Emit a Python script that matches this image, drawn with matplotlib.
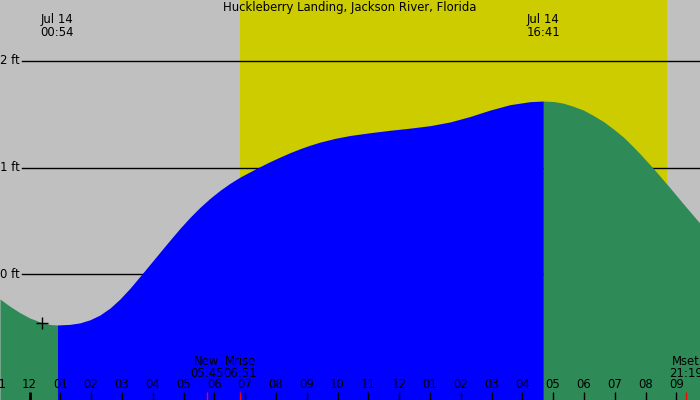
import matplotlib
matplotlib.use("Agg")
import matplotlib.pyplot as plt
import matplotlib.transforms as mtransforms

# ---- data ----
title = "Huckleberry Landing, Jackson River, Florida"
# tide curve: hours since midnight Jul 14, height in ft
tide_hours = [-0.958, -0.633, -0.308, 0.016, 0.341, 0.666, 0.9, 1.315, 1.640, 1.964, 2.289,
              2.614, 2.938, 3.263, 3.643, 3.912, 4.237, 4.562, 4.886, 5.211, 5.536, 5.860,
              6.185, 6.510, 6.834, 7.377, 7.808, 8.133, 8.458, 8.782, 9.107, 9.432, 9.919,
              10.406, 11.055, 11.705, 12.354, 13.003, 13.653, 14.302, 14.951, 15.601,
              16.250, 16.683, 17.029, 17.331, 17.656, 17.981, 18.305, 18.630, 18.955,
              19.279, 19.552, 19.821, 20.253, 20.795, 21.227, 21.769]
tide_ft = [-0.2315, -0.300, -0.360, -0.410, -0.446, -0.470, -0.475, -0.469, -0.455, -0.426,
           -0.381, -0.316, -0.231, -0.130, 0.0, 0.094, 0.208, 0.321, 0.431, 0.534, 0.628,
           0.712, 0.787, 0.853, 0.911, 0.994, 1.056, 1.099, 1.140, 1.177, 1.210, 1.239,
           1.274, 1.301, 1.327, 1.350, 1.370, 1.393, 1.428, 1.479, 1.539, 1.590, 1.618,
           1.624, 1.619, 1.604, 1.575, 1.540, 1.489, 1.433, 1.363, 1.287, 1.210, 1.130,
           0.993, 0.811, 0.661, 0.478]
low_time, high_time = 0.9, 16.683
extreme_labels = [("Jul 14", "00:54", 0.9), ("Jul 14", "16:41", 16.683)]
sunrise, sunset = 6.83, 20.71
grid_ft = [0, 1, 2]
grid_labels = ["0 ft", "1 ft", "2 ft"]
hour_ticks = list(range(-1, 22))
hour_labels = ["11", "12", "01", "02", "03", "04", "05", "06", "07", "08", "09", "10", "11",
               "12", "01", "02", "03", "04", "05", "06", "07", "08", "09"]
events = [("New", "05:45", 5.75), ("Mrise", "06:51", 6.85), ("Mset", "21:19", 21.317)]
marker_pt = (0.41, -0.456)
x_range = (-0.958, 21.769)
y_range = (-1.178, 2.571)

# ---- styles ----
GREY = "#c0c0c0"
YELLOW = "#cccc00"
GREEN = "#2e8b57"
BLUE = "#0000ff"
FS = 8.4

plt.rcParams['font.family'] = ['DejaVu Sans']
fig = plt.figure(figsize=(7, 4), dpi=100)
fig.patch.set_facecolor(GREY)
ax = fig.add_axes([0, 0, 1, 1])
ax.set_axis_off()
ax.set_xlim(*x_range)
ax.set_ylim(*y_range)

ax.axvspan(sunrise, sunset, color=YELLOW, lw=0, zorder=1)

ytr = mtransforms.blended_transform_factory(ax.transAxes, ax.transData)
for f, lab in zip(grid_ft, grid_labels):
    ax.axhline(f, xmin=22 / 700, xmax=1, color="black", lw=1, zorder=2)
    ax.text(20 / 700, f, lab, transform=ytr, ha="right", va="center", fontsize=FS, zorder=5)

bot = y_range[0]
seg1 = [(a, b) for a, b in zip(tide_hours, tide_ft) if a <= low_time]
seg2 = [(a, b) for a, b in zip(tide_hours, tide_ft) if low_time <= a <= high_time]
seg3 = [(a, b) for a, b in zip(tide_hours, tide_ft) if a >= high_time]
for seg, col in ((seg1, GREEN), (seg2, BLUE), (seg3, GREEN)):
    xs = [p[0] for p in seg]
    ys = [p[1] for p in seg]
    ax.fill_between(xs, bot, ys, color=col, lw=0, zorder=3, antialiased=True)

ax.plot([marker_pt[0]], [marker_pt[1]], marker="+", color="black", ms=9, mew=1, zorder=6)

ax.text(0.5, 1 - 8 / 400, title, transform=ax.transAxes, ha="center", va="center", fontsize=FS, zorder=6)
tr = mtransforms.blended_transform_factory(ax.transData, ax.transAxes)
for l1, l2, t in extreme_labels:
    ax.text(t, 1 - 19 / 400, l1, transform=tr, ha="center", va="center", fontsize=FS, zorder=6)
    ax.text(t, 1 - 32 / 400, l2, transform=tr, ha="center", va="center", fontsize=FS, zorder=6)

for t, lab in zip(hour_ticks, hour_labels):
    lw = 2 if t == 0 else 1
    ax.plot([t, t], [0, 8 / 400], transform=tr, color="black", lw=lw, zorder=6, solid_capstyle="butt")
    ax.text(t, 15 / 400, lab, transform=tr, ha="center", va="center", fontsize=FS, zorder=6)

for name, tm, t in events:
    ax.plot([t, t], [0, 8 / 400], transform=tr, color="red", lw=1, zorder=7, solid_capstyle="butt")
    ax.text(t, 38.5 / 400, name, transform=tr, ha="center", va="center", fontsize=FS, zorder=6)
    ax.text(t, 26.5 / 400, tm, transform=tr, ha="center", va="center", fontsize=FS, zorder=6)

fig.savefig("out.png", dpi=100, facecolor=GREY)
